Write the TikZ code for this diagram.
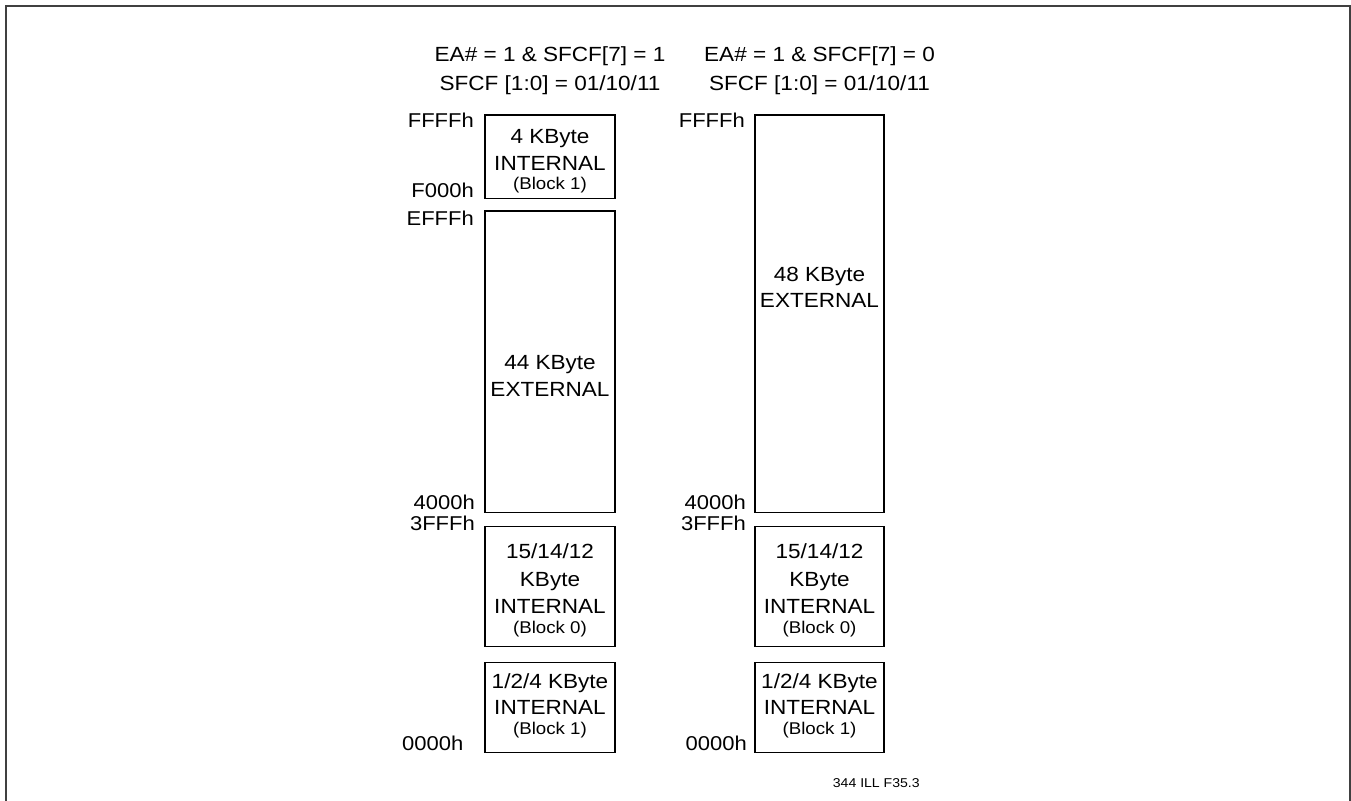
\documentclass[tikz,border=0pt]{standalone}
\usepackage{fontspec}
\setmainfont{Liberation Sans}[FakeStretch=1.1]
\begin{document}
\begin{tikzpicture}[x=1pt,y=-1pt,
  mem/.style={draw=black,line width=1.3pt,inner sep=0pt,fill=white},
  big/.style={font=\fontsize{20.5}{24}\selectfont,inner sep=0pt,anchor=base},
  small/.style={font=\fontsize{17}{20}\selectfont,inner sep=0pt,anchor=base},
  addr/.style={font=\fontsize{20}{24}\selectfont,inner sep=0pt,anchor=base east},
  tag/.style={font=\fontsize{12.8}{15}\selectfont,inner sep=0pt,anchor=base}]
\useasboundingbox (0,0) rectangle (1351,800);
\fill[white] (0,0) rectangle (1351,800);
\draw[line width=1.6pt,draw=black!75] (6,810) -- (6,6) -- (1350,6) -- (1350,810);
% headers
\node[big] (h1a) at (550,61.7) {EA\# = 1 \& SFCF[7] = 1};
\node[big] (h1b) at (550,90.5) {SFCF [1:0] = 01/10/11};
\node[big] (h2a) at (819.5,61.7) {EA\# = 1 \& SFCF[7] = 0};
\node[big] (h2b) at (819.5,90.5) {SFCF [1:0] = 01/10/11};
% left column boxes
\node[mem,minimum width=130pt,minimum height=83.3pt] (l1) at (550,156.65) {};
\node[mem,minimum width=130pt,minimum height=301.3pt] (l2) at (550,361.65) {};
\node[mem,minimum width=130pt,minimum height=120pt] (l3) at (550,586.7) {};
\node[mem,minimum width=130pt,minimum height=89.6pt] (l4) at (550,707.5) {};
% right column boxes
\node[mem,minimum width=129pt,minimum height=397.3pt] (r2) at (819.5,313.65) {};
\node[mem,minimum width=129pt,minimum height=120pt] (r3) at (819.5,586.7) {};
\node[mem,minimum width=129pt,minimum height=89.6pt] (r4) at (819.5,707.5) {};
% left texts
\node[big] (l1a) at (550,143.3) {4 KByte};
\node[big] (l1b) at (550,170) {INTERNAL};
\node[small] (l1c) at (550,189.7) {(Block 1)};
\node[big] (l2a) at (550,369.5) {44 KByte};
\node[big] (l2b) at (550,396) {EXTERNAL};
\node[big] (l3a) at (550,558.3) {15/14/12};
\node[big] (l3b) at (550,586.7) {KByte};
\node[big] (l3c) at (550,613.3) {INTERNAL};
\node[small] (l3d) at (550,633) {(Block 0)};
\node[big] (l4a) at (550,688.3) {1/2/4 KByte};
\node[big] (l4b) at (550,714) {INTERNAL};
\node[small] (l4c) at (550,734.7) {(Block 1)};
% right texts
\node[big] (r2a) at (819.5,281.5) {48 KByte};
\node[big] (r2b) at (819.5,307.5) {EXTERNAL};
\node[big] (r3a) at (819.5,558.3) {15/14/12};
\node[big] (r3b) at (819.5,586.7) {KByte};
\node[big] (r3c) at (819.5,613.3) {INTERNAL};
\node[small] (r3d) at (819.5,633) {(Block 0)};
\node[big] (r4a) at (819.5,688.3) {1/2/4 KByte};
\node[big] (r4b) at (819.5,714) {INTERNAL};
\node[small] (r4c) at (819.5,734.7) {(Block 1)};
% address labels left
\node[addr] (la1) at (474,127) {FFFFh};
\node[addr] (la2) at (474,197.7) {F000h};
\node[addr] (la3) at (474,225) {EFFFh};
\node[addr] (la4) at (475,509) {4000h};
\node[addr] (la5) at (475,530.7) {3FFFh};
\node[addr] (la6) at (463.5,750) {0000h};
% address labels right
\node[addr] (ra1) at (745,127.3) {FFFFh};
\node[addr] (ra4) at (746,509) {4000h};
\node[addr] (ra5) at (746,530.7) {3FFFh};
\node[addr] (ra6) at (747,750) {0000h};
\node[tag] (id) at (876.3,787.7) {344 ILL F35.3};
\end{tikzpicture}
\end{document}
